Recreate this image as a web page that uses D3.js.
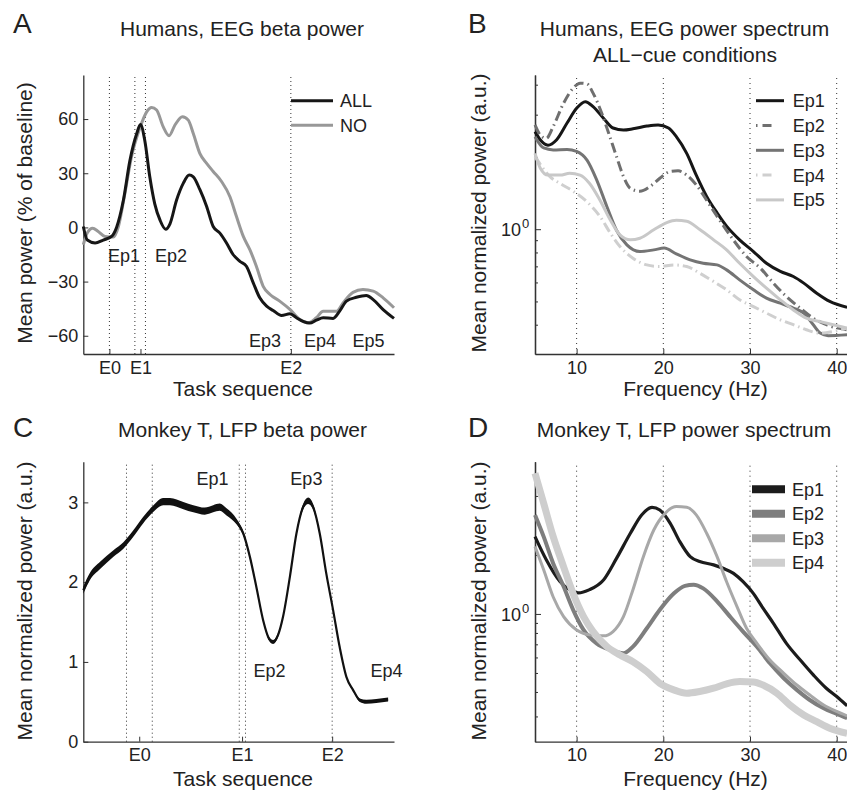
<!DOCTYPE html>
<html>
<head>
<meta charset="utf-8">
<script src="https://cdn.jsdelivr.net/npm/d3@7"></script>
<style>
  body { margin: 0; background: #fff; }
  svg { display: block; font-family: "Liberation Sans", Arial, Helvetica, sans-serif; fill: #222; }
  .tick text { font-size: 18px; fill: #222; font-family: "Liberation Sans", Arial, sans-serif; }
  .domain { stroke: #333; stroke-width: 1.3; }
  .tick line { stroke: #333; }
</style>
</head>
<body>
<script>
// ---- panel A: humans, EEG beta power (task time, % of baseline) ----
var aAll = [[0,0.5],[1.3,-7],[3.8,-8.6],[6.4,-7],[9.1,-5],[10.7,0],[12.9,15],[15,37],[17.2,52],[18.4,57],[19.8,48],
  [21.4,28],[23,13],[24.7,4],[26.5,-1],[27.9,2],[30,15],[32.2,24.5],[34.1,29],[35.4,28],[37.5,21],[39.7,11.6],
  [41.8,0.5],[43.9,-3],[46.1,-8.6],[48.2,-15],[50.4,-18.8],[52.5,-21.5],[54.7,-30.7],[56.8,-39],[59,-43.6],
  [61.1,-46],[63.8,-48.8],[66.5,-47.8],[68.6,-50],[70.7,-52],[72.9,-53],[75,-51.4],[77.2,-50],[80.4,-50.4],
  [82.5,-46.4],[84.7,-40.8],[87.9,-38.7],[91.1,-37.7],[93.3,-40],[96.5,-45.5],[100,-50.4]];
var aNo = [[0,-9.6],[1.3,-3],[3,-0.4],[4.8,-2.2],[7,-5],[9.7,-5.3],[11.3,0.5],[13.4,19],[15.5,39],[18.2,55],
  [20.4,64],[22,66.4],[23.6,65],[25.7,55.8],[27.6,50.8],[29.5,56.7],[31.9,61.3],[33.8,59.4],[35.4,52],[37.5,41],
  [39.7,35.5],[41.8,31],[44.5,25.4],[47.2,17],[49.3,6],[51.5,-5],[53.6,-12.3],[55.7,-21.5],[57.9,-32.6],[60,-37],
  [63.2,-40.8],[66.5,-45.4],[69.7,-51],[72.4,-52.8],[75,-50],[77.2,-46.4],[79.3,-46.4],[81.5,-46.4],[83.6,-41.8],
  [86.8,-36],[90,-34.4],[93.3,-35.3],[96.5,-39],[100,-44.5]];
var aTicksY = [-60, -30, 0, 30, 60];
var aEvents = [8.4, 18.4, 66.8];          // E0, E1, E2
var aEventNames = ['E0', 'E1', 'E2'];
var aDotted = [8.4, 16.6, 20.0, 66.8];
var aEpochs = ['Ep1', 'Ep2', 'Ep3', 'Ep4', 'Ep5'];
var aEpochAt = [[13.1, -19.2], [28.2, -19.2], [58.5, -66.3], [76.2, -66.3], [91.8, -66.3]];

// ---- panel B: humans, EEG power spectrum, ALL-cue ----
var bEp1 = [[5.2,2.55],[5.8,2.36],[6.7,2.24],[7.7,2.36],[8.9,2.77],[10,3.19],[11,3.40],[11.9,3.24],[13.1,2.90],
  [14.2,2.64],[15.4,2.59],[16.5,2.62],[18.1,2.69],[19.4,2.72],[20.6,2.64],[21.5,2.43],[22.7,2.07],[23.8,1.68],
  [25,1.37],[26.2,1.17],[27.3,1.03],[28.8,0.903],[30.4,0.807],[31.9,0.721],[33.5,0.667],[35,0.635],[36.2,0.596],
  [37.7,0.541],[39.2,0.50],[41.2,0.473]];
var bEp2 = [[5.2,2.72],[5.8,2.47],[6.5,2.39],[7.3,2.68],[8.5,3.35],[9.6,3.87],[10.4,4.06],[11.2,4.03],[11.9,3.69],
  [12.9,3.04],[13.7,2.51],[14.6,2.01],[15.4,1.66],[16.2,1.48],[17.3,1.44],[18.5,1.51],[19.6,1.63],[20.8,1.74],
  [21.7,1.75],[22.7,1.68],[23.8,1.53],[25,1.32],[26.5,1.09],[28.1,0.90],[29.6,0.77],[31.2,0.688],[32.7,0.596],
  [34.2,0.524],[35.8,0.469],[37.3,0.426],[38.8,0.40],[41.2,0.381]];
var bEp3 = [[5.2,2.43],[6.2,2.18],[7.3,2.14],[8.9,2.15],[10,2.11],[11.2,1.94],[12.3,1.61],[13.5,1.24],[14.6,0.99],
  [15.8,0.86],[17.3,0.807],[18.9,0.82],[20.1,0.834],[21.5,0.789],[23.1,0.745],[24.6,0.721],[26.2,0.71],[27.3,0.677],
  [28.8,0.615],[30.4,0.559],[31.9,0.516],[33.5,0.492],[35,0.469],[36.2,0.447],[37.3,0.40],[38.1,0.369],[39,0.36],
  [41.2,0.363]];
var bEp4 = [[5.2,2.01],[6,1.82],[6.9,1.66],[8.1,1.55],[9.6,1.44],[11.2,1.30],[12.7,1.13],[13.9,0.962],[15,0.847],
  [16.5,0.757],[18.1,0.71],[19.6,0.699],[21.2,0.71],[22.7,0.699],[24.2,0.656],[25.8,0.605],[27.3,0.559],[28.8,0.508],
  [30.4,0.476],[31.9,0.447],[33.5,0.419],[35,0.40],[36.5,0.381],[38.1,0.369],[39.6,0.375],[41.2,0.387]];
var bEp5 = [[5.2,2.07],[5.8,1.80],[6.7,1.68],[8.1,1.68],[9.2,1.71],[10.4,1.68],[11.5,1.55],[12.7,1.32],[13.9,1.09],
  [15,0.947],[16.2,0.903],[17.3,0.917],[18.9,0.994],[20.4,1.066],[21.5,1.09],[22.7,1.08],[24.2,0.997],[25.8,0.903],
  [27.3,0.82],[28.8,0.721],[30.4,0.635],[31.9,0.568],[33.5,0.508],[35,0.461],[36.5,0.426],[38.1,0.412],[39.6,0.40],
  [41.2,0.387]];
var bNames = ['Ep1', 'Ep2', 'Ep3', 'Ep4', 'Ep5'];
var freqTicks = [10, 20, 30, 40];

// ---- panel C: monkey T, LFP beta power (mean and spread) ----
var cTask = [0,2.1,5.4,9.7,12.9,16.1,19.3,22.5,25.7,27.9,32.2,35.4,39.1,41.8,43.9,46.1,49.3,51.5,53.6,55.7,
  57.9,59.8,61.1,62.7,64.3,66.5,68.6,70.7,72.4,74,76.1,78.2,80.4,82.5,84.7,86.8,89,91.1,94.3,98.1];
var cMean = [1.90,2.07,2.21,2.36,2.46,2.61,2.78,2.92,3.01,3.01,2.96,2.92,2.89,2.92,2.94,2.88,2.76,2.61,2.32,1.94,
  1.52,1.29,1.25,1.34,1.57,2.07,2.61,2.94,3.02,2.94,2.61,2.11,1.65,1.19,0.81,0.65,0.52,0.50,0.51,0.53];
var cSem = [0.045,0.045,0.045,0.04,0.04,0.04,0.04,0.04,0.045,0.045,0.045,0.045,0.045,0.045,0.045,0.045,0.035,0.025,
  0.012,0.01,0.01,0.025,0.025,0.025,0.01,0.01,0.012,0.035,0.04,0.035,0.01,0.01,0.01,0.01,0.01,0.012,0.022,0.025,0.025,0.025];
var cTicksY = [0, 1, 2, 3];
var cEvents = [18.0, 51.1, 80.1];
var cEventNames = ['E0', 'E1', 'E2'];
var cDotted = [13.9, 22.2, 50.2, 52.2, 80.1];
var cEpochs = ['Ep1', 'Ep2', 'Ep3', 'Ep4'];
var cEpochAt = [[41.6, 3.22], [59.9, 0.81], [71.8, 3.22], [97.6, 0.81]];

// ---- panel D: monkey T, LFP power spectrum ----
var dEp1 = [[5.2,2.48],[6.5,1.89],[8.1,1.46],[9.2,1.33],[10.2,1.28],[11.5,1.33],[13.1,1.49],[14.6,1.92],[16.2,2.58],
  [17.5,3.20],[18.7,3.50],[19.6,3.39],[20.8,2.90],[21.9,2.34],[23.1,1.96],[24.2,1.85],[25.8,1.78],[26.9,1.71],
  [28.1,1.61],[29.2,1.46],[30.4,1.27],[31.5,1.07],[32.7,0.896],[34.2,0.708],[35.8,0.582],[37.3,0.489],[38.8,0.418],
  [40,0.379],[41.2,0.34]];
var dEp2 = [[5.2,3.20],[6.2,2.48],[7.3,1.81],[8.5,1.38],[9.6,1.05],[10.8,0.829],[12.3,0.708],[13.9,0.655],[15.4,0.63],
  [16.5,0.681],[18.1,0.845],[19.6,1.05],[21.2,1.27],[22.5,1.39],[23.5,1.41],[24.6,1.35],[26.2,1.16],[27.7,0.969],
  [29.2,0.813],[30.8,0.681],[32.3,0.56],[33.9,0.47],[35.4,0.41],[36.9,0.364],[38.5,0.33],[40,0.309],[41.2,0.294]];
var dEp3 = [[5.2,2.21],[6.2,1.68],[7.3,1.22],[8.5,0.969],[10,0.829],[11.5,0.782],[13.1,0.773],[14.2,0.813],[15.4,0.969],
  [16.5,1.33],[17.7,1.96],[18.9,2.68],[20.2,3.26],[21.5,3.53],[22.7,3.50],[23.8,3.20],[25,2.58],[26.2,1.96],[27.3,1.46],
  [28.5,1.09],[29.6,0.845],[30.8,0.708],[32.3,0.582],[33.9,0.498],[35.4,0.434],[36.9,0.386],[38.5,0.343],[40,0.318],
  [41.2,0.302]];
var dEp4 = [[5.2,5.22],[6.2,3.67],[7.3,2.48],[8.5,1.74],[9.6,1.27],[10.8,0.969],[11.9,0.813],[13.5,0.681],[15,0.618],
  [16.5,0.571],[18.1,0.508],[19.6,0.443],[21.2,0.41],[22.7,0.394],[24.2,0.402],[25.8,0.418],[27.3,0.44],[28.8,0.452],
  [30.4,0.45],[31.5,0.434],[33.1,0.394],[34.6,0.343],[36.2,0.305],[37.7,0.282],[39.2,0.261],[41.2,0.246]];
var dNames = ['Ep1', 'Ep2', 'Ep3', 'Ep4'];

var svg = d3.select('body').append('svg').attr('width', 847).attr('height', 793);

function label(x, y, txt, size, anchor, rot) {
  var t = svg.append('text').attr('x', x).attr('y', y).text(txt)
    .style('font-size', size + 'px').attr('text-anchor', anchor || 'middle').attr('fill', '#222');
  if (rot) t.attr('transform', 'rotate(-90,' + x + ',' + y + ')');
  return t;
}

function dottedV(xs, x, y, dash) {
  svg.append('g').selectAll('line').data(xs).enter().append('line')
    .attr('x1', function (d) { return x(d); }).attr('x2', function (d) { return x(d); })
    .attr('y1', y.range()[0]).attr('y2', y.range()[1])
    .attr('stroke', '#333').attr('stroke-width', 1).attr('stroke-dasharray', dash);
}

function logAxis(y, x0) {
  var minor = [0.2, 0.3, 0.4, 0.5, 0.6, 0.7, 0.8, 0.9, 2, 3, 4, 5, 6].filter(function (v) {
    return v >= y.domain()[0] && v <= y.domain()[1];
  });
  svg.append('g').attr('transform', 'translate(' + x0 + ',0)')
    .call(d3.axisLeft(y).tickValues(minor).tickSize(-3).tickSizeOuter(0).tickFormat(function () { return ''; }));
  svg.append('g').attr('transform', 'translate(' + x0 + ',0)')
    .call(d3.axisLeft(y).tickValues([1]).tickSize(-6).tickSizeOuter(0).tickFormat(function () { return ''; }));
  var t = svg.append('text').attr('x', x0 - 14).attr('y', y(1) + 7).attr('text-anchor', 'end')
    .style('font-size', '18px').attr('fill', '#222');
  t.append('tspan').text('10');
  svg.append('text').attr('x', x0 - 13).attr('y', y(1) - 1).style('font-size', '13px').attr('fill', '#222').text('0');
}

// ================= A =================
var xA = d3.scaleLinear().domain([0, 100]).range([83.3, 394]);
var yA = d3.scaleLinear().domain([-70.1, 84.4]).range([354, 75]);
dottedV(aDotted, xA, yA, '1,3');
svg.append('g').attr('transform', 'translate(0,354)')
  .call(d3.axisBottom(xA).tickValues(aEvents).tickSize(-5).tickSizeOuter(0).tickPadding(7)
    .tickFormat(function (d, i) { return aEventNames[i]; }));
svg.append('g').attr('transform', 'translate(83.3,0)')
  .call(d3.axisLeft(yA).tickValues(aTicksY).tickSize(-5).tickSizeOuter(0).tickPadding(5)
    .tickFormat(function (d) { return d < 0 ? '\u2212' + (-d) : d; }));
var lineA = d3.line().x(function (d) { return xA(d[0]); }).y(function (d) { return yA(d[1]); }).curve(d3.curveMonotoneX);
svg.append('path').datum(aNo).attr('d', lineA).attr('fill', 'none').attr('stroke', '#989898').attr('stroke-width', 3);
svg.append('path').datum(aAll).attr('d', lineA).attr('fill', 'none').attr('stroke', '#161616').attr('stroke-width', 3);
aEpochs.forEach(function (e, i) { label(xA(aEpochAt[i][0]), yA(aEpochAt[i][1]), e, 18); });
[['ALL', '#161616'], ['NO', '#989898']].forEach(function (s, i) {
  var yy = 100.7 + i * 24.5;
  svg.append('line').attr('x1', 291).attr('x2', 333).attr('y1', yy).attr('y2', yy).attr('stroke', s[1]).attr('stroke-width', 3);
  label(340, yy + 6.5, s[0], 18, 'start');
});
label(13, 33, 'A', 28, 'start');
label(242, 35.7, 'Humans, EEG beta power', 21);
label(32, 213, 'Mean power (% of baseline)', 21, 'middle', true);
label(243, 396, 'Task sequence', 21);

// ================= B =================
var xB = d3.scaleLinear().domain([5.2, 41.2]).range([535, 847.1]);
var yB = d3.scaleLog().domain([0.302, 4.39]).range([354, 75]);
dottedV(freqTicks, xB, yB, '1,4');
svg.append('g').attr('transform', 'translate(0,354)')
  .call(d3.axisBottom(xB).tickValues(freqTicks).tickSize(-5).tickSizeOuter(0).tickPadding(7));
logAxis(yB, 535);
var lineB = d3.line().x(function (d) { return xB(d[0]); }).y(function (d) { return yB(d[1]); }).curve(d3.curveMonotoneX);
var bStyles = [
  { c: '#161616', dash: null }, { c: '#6f6f6f', dash: '10,4,1.5,4' }, { c: '#747474', dash: null },
  { c: '#cfcfcf', dash: '10,4,1.5,4' }, { c: '#c8c8c8', dash: null }
];
[bEp1, bEp2, bEp3, bEp4, bEp5].forEach(function (s, i) {
  svg.append('path').datum(s).attr('d', lineB).attr('fill', 'none').attr('stroke', bStyles[i].c)
    .attr('stroke-width', 3).attr('stroke-dasharray', bStyles[i].dash);
});
bNames.forEach(function (n, i) {
  var yy = 100.7 + i * 24.8;
  svg.append('line').attr('x1', 756).attr('x2', 784).attr('y1', yy).attr('y2', yy).attr('stroke', bStyles[i].c)
    .attr('stroke-width', 3).attr('stroke-dasharray', bStyles[i].dash ? '1.5,5,9,20' : null);
  label(792.7, yy + 6.5, n, 18, 'start');
});
label(468, 33, 'B', 28, 'start');
label(684.5, 35.7, 'Humans, EEG power spectrum', 21);
label(685, 61.7, 'ALL\u2212cue conditions', 21);
label(486, 213, 'Mean normalized power (a.u.)', 21, 'middle', true);
label(695.5, 396, 'Frequency (Hz)', 21);

// ================= C =================
var xC = d3.scaleLinear().domain([0, 100]).range([83.3, 394]);
var yC = d3.scaleLinear().domain([0, 3.51]).range([741.7, 461.7]);
dottedV(cDotted, xC, yC, '1,3');
svg.append('g').attr('transform', 'translate(0,741.7)')
  .call(d3.axisBottom(xC).tickValues(cEvents).tickSize(-5).tickSizeOuter(0).tickPadding(7)
    .tickFormat(function (d, i) { return cEventNames[i]; }));
svg.append('g').attr('transform', 'translate(83.3,0)')
  .call(d3.axisLeft(yC).tickValues(cTicksY).tickSize(-5).tickSizeOuter(0).tickPadding(5).tickFormat(d3.format('d')));
var cData = cTask.map(function (t, i) { return { t: t, m: cMean[i], s: cSem[i] }; });
svg.append('path').datum(cData)
  .attr('d', d3.area().x(function (d) { return xC(d.t); })
    .y0(function (d) { return yC(d.m - d.s); }).y1(function (d) { return yC(d.m + d.s); }).curve(d3.curveMonotoneX))
  .attr('fill', '#111');
svg.append('path').datum(cData)
  .attr('d', d3.line().x(function (d) { return xC(d.t); }).y(function (d) { return yC(d.m); }).curve(d3.curveMonotoneX))
  .attr('fill', 'none').attr('stroke', '#111').attr('stroke-width', 2.2);
cEpochs.forEach(function (e, i) { label(xC(cEpochAt[i][0]), yC(cEpochAt[i][1]), e, 18); });
label(13, 437, 'C', 28, 'start');
label(242.5, 436.7, 'Monkey T, LFP beta power', 21);
label(32, 601, 'Mean normalized power (a.u.)', 21, 'middle', true);
label(243, 786, 'Task sequence', 21);

// ================= D =================
var xD = d3.scaleLinear().domain([5.2, 41.2]).range([535, 847.1]);
var yD = d3.scaleLog().domain([0.223, 5.98]).range([741.7, 461.7]);
dottedV(freqTicks, xD, yD, '1,4');
svg.append('g').attr('transform', 'translate(0,741.7)')
  .call(d3.axisBottom(xD).tickValues(freqTicks).tickSize(-5).tickSizeOuter(0).tickPadding(7));
logAxis(yD, 535);
var lineD = d3.line().x(function (d) { return xD(d[0]); }).y(function (d) { return yD(d[1]); }).curve(d3.curveMonotoneX);
var dStyles = [{ c: '#1c1c1c', w: 3.2 }, { c: '#7e7e7e', w: 4 }, { c: '#a8a8a8', w: 3 }, { c: '#cecece', w: 7 }];
[dEp1, dEp2, dEp3, dEp4].forEach(function (s, i) {
  svg.append('path').datum(s).attr('d', lineD).attr('fill', 'none').attr('stroke', dStyles[i].c)
    .attr('stroke-width', dStyles[i].w);
});
dNames.forEach(function (n, i) {
  var yy = 489.3 + i * 24.5;
  svg.append('line').attr('x1', 752).attr('x2', 785).attr('y1', yy).attr('y2', yy).attr('stroke', dStyles[i].c)
    .attr('stroke-width', 8);
  label(792, yy + 6.5, n, 18, 'start');
});
label(468, 437, 'D', 28, 'start');
label(684, 436.7, 'Monkey T, LFP power spectrum', 21);
label(486, 601, 'Mean normalized power (a.u.)', 21, 'middle', true);
label(695.5, 786, 'Frequency (Hz)', 21);
</script>
</body>
</html>
